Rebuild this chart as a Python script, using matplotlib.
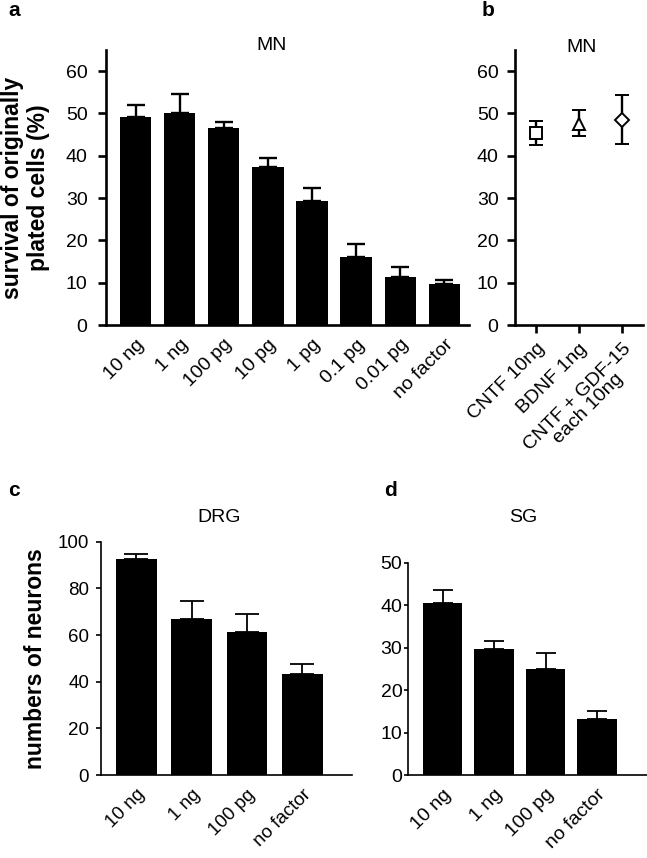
import matplotlib
matplotlib.use("Agg")
import matplotlib.pyplot as plt

plt.rcParams['font.family'] = ['Liberation Sans', 'DejaVu Sans']

# panel a - MN dose response
mn_labels = ["10 ng", "1 ng", "100 pg", "10 pg", "1 pg", "0.1 pg", "0.01 pg", "no factor"]
mn_vals = [49.2, 50.2, 46.5, 37.4, 29.2, 16.1, 11.3, 9.6]
mn_err = [2.8, 4.4, 1.4, 2.0, 3.2, 3.0, 2.4, 1.1]

# panel b - MN factor comparison
cmp_labels = ["CNTF 10ng", "BDNF 1ng", "CNTF + GDF-15\neach 10ng"]
cmp_vals = [45.4, 47.6, 48.5]
cmp_lo = [42.5, 44.6, 42.8]
cmp_hi = [48.2, 50.8, 54.3]
cmp_markers = ["s", "^", "D"]

# panel c - DRG
drg_labels = ["10 ng", "1 ng", "100 pg", "no factor"]
drg_vals = [92.4, 67.0, 61.1, 43.1]
drg_err = [2.5, 7.6, 7.9, 4.4]

# panel d - SG
sg_labels = ["10 ng", "1 ng", "100 pg", "no factor"]
sg_vals = [40.6, 29.6, 25.0, 13.2]
sg_err = [2.9, 2.0, 3.7, 1.8]

W, H = 647, 858
fig = plt.figure(figsize=(W / 100, H / 100), dpi=100)


def ax_px(l, r, b, t):
    return fig.add_axes([l / W, 1 - b / H, (r - l) / W, (b - t) / H])


def style(ax, lw, fs, tlen, tpad):
    for s in ["top", "right"]:
        ax.spines[s].set_visible(False)
    for s in ["left", "bottom"]:
        ax.spines[s].set_linewidth(lw)
    ax.tick_params(axis="y", labelsize=fs, width=lw, length=tlen, pad=tpad)
    ax.tick_params(axis="x", labelsize=fs, width=lw, length=tlen, pad=3)


def bars(ax, labels, vals, err, width, capsize, lw):
    x = range(len(vals))
    ax.bar(x, vals, width=width, color="black", zorder=2)
    ax.errorbar(x, vals, yerr=[[0] * len(err), err], fmt="none", ecolor="black",
                elinewidth=lw, capsize=capsize, capthick=lw, zorder=1)
    ax.set_xticks(list(x))
    ax.set_xticklabels(labels, rotation=45, ha="right", rotation_mode="anchor")
    ax.tick_params(axis="x", length=0, pad=8)


# a
ax_a = ax_px(106, 469, 325, 50)
style(ax_a, 1.9, 14, 5.8, 7.5)
bars(ax_a, mn_labels, mn_vals, mn_err, 0.71, 6.8, 1.7)
ax_a.set_xlim(-0.67, 7.56)
ax_a.set_ylim(0, 65)
ax_a.set_yticks(range(0, 61, 10))
ax_a.set_ylabel("survival of originally\nplated cells (%)", fontsize=16.5,
                fontweight="bold", labelpad=11)
ax_a.text(0.455, 1.015, "MN", transform=ax_a.transAxes, ha="center", va="center", fontsize=14)

# b
ax_b = ax_px(515, 643, 325, 50)
style(ax_b, 1.9, 14, 5.8, 6)
for i, (v, lo, hi, m) in enumerate(zip(cmp_vals, cmp_lo, cmp_hi, cmp_markers)):
    ax_b.errorbar([i], [v], yerr=[[v - lo], [hi - v]], fmt=m, mfc="white", mec="black",
                  ms=8.5 if m != "D" else 7, mew=1.4, ecolor="black", elinewidth=1.7,
                  capsize=4.8, capthick=1.7)
ax_b.set_xlim(-0.49, 2.49)
ax_b.set_ylim(0, 65)
ax_b.set_yticks(range(0, 61, 10))
ax_b.set_xticks(range(len(cmp_labels)))
ax_b.set_xticklabels(cmp_labels, rotation=45, ha="right", rotation_mode="anchor",
                     multialignment="center", linespacing=0.95)
ax_b.tick_params(axis="x", pad=5)
ax_b.text(0.52, 1.01, "MN", transform=ax_b.transAxes, ha="center", va="center", fontsize=14)

# c
ax_c = ax_px(101, 352, 775, 541.7)
style(ax_c, 1.2, 13.5, 3.5, 5)
bars(ax_c, drg_labels, drg_vals, drg_err, 0.74, 8.8, 1.3)
ax_c.set_xlim(-0.64, 3.9)
ax_c.set_ylim(0, 100)
ax_c.set_yticks(range(0, 101, 20))
ax_c.set_ylabel("numbers of neurons", fontsize=16.5, fontweight="bold", labelpad=8)
ax_c.text(118 / 251, (775 - 517) / (775 - 541.7), "DRG", transform=ax_c.transAxes,
          ha="center", va="center", fontsize=14)

# d
ax_d = ax_px(408, 647, 775, 562.7)
style(ax_d, 1.2, 14, 3, 1)
bars(ax_d, sg_labels, sg_vals, sg_err, 0.76, 7, 1.3)
ax_d.set_xlim(-0.67, 3.97)
ax_d.set_ylim(0, 50)
ax_d.set_yticks(range(0, 51, 10))
ax_d.text((523 - 408) / 239, (775 - 517) / (775 - 562.7), "SG", transform=ax_d.transAxes,
          ha="center", va="center", fontsize=14)

# panel letters
for letter, px, py in [("a", 8, 11), ("b", 482, 11), ("c", 8, 490), ("d", 384, 490)]:
    fig.text(px / W, 1 - py / H, letter, fontsize=15, fontweight="bold", ha="left", va="center")

fig.savefig("out.png", dpi=100)
